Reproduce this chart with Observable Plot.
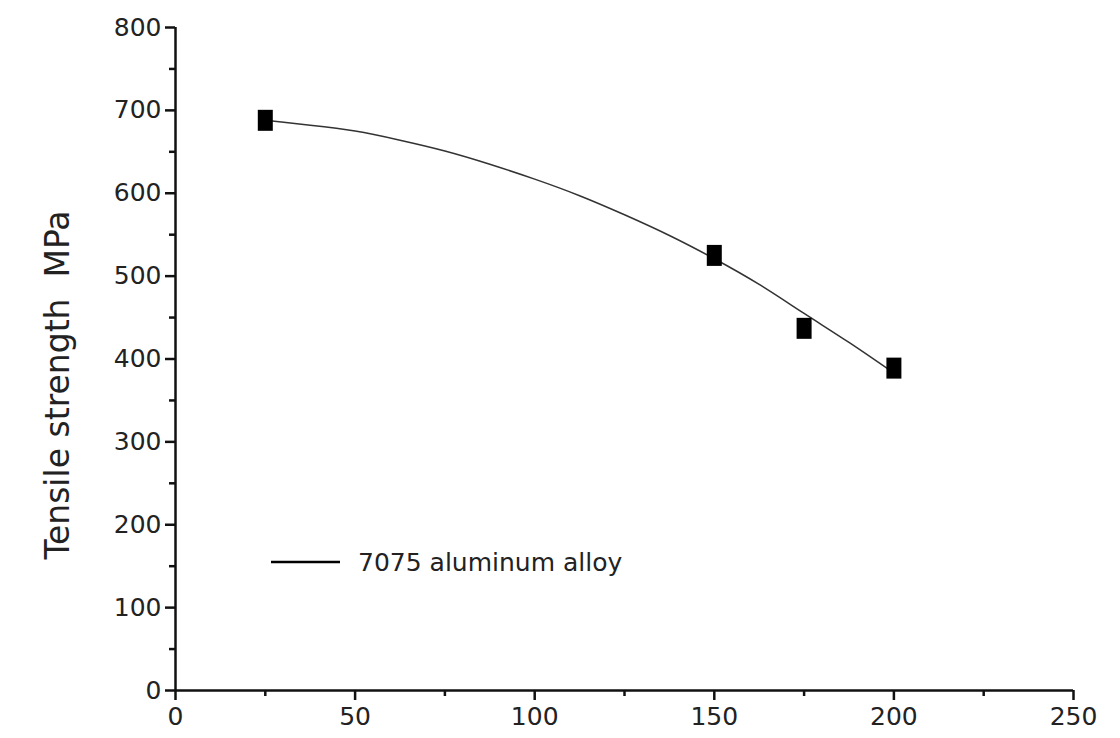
<!DOCTYPE html>
<html>
<head>
<meta charset="utf-8">
<script src="https://cdn.jsdelivr.net/npm/d3@7"></script>
<script src="https://cdn.jsdelivr.net/npm/@observablehq/plot@0.6"></script>
<style>
  html, body { margin: 0; padding: 0; background: #fff; }
  #chart svg { display: block; }
</style>
</head>
<body>
<div id="chart"></div>
<script>
// Measured points (temperature °C, tensile strength MPa)
const temperature = [25, 150, 175, 200];
const strength = [688, 525, 437, 389];

// Fitted curve
const curveX = [25, 37.5, 50, 62.5, 75, 87.5, 100, 112.5, 125, 137.5, 150, 162.5, 175, 187.5, 200];
const curveY = [688, 682, 675, 664, 651, 635, 617, 597, 574, 549, 521, 490, 455, 420, 383];

const xMajor = [0, 50, 100, 150, 200, 250];
const xMinor = [25, 75, 125, 175, 225];
const yMajor = [0, 100, 200, 300, 400, 500, 600, 700, 800];
const yMinor = [50, 150, 250, 350, 450, 550, 650, 750];

const seriesName = "7075 aluminum alloy";
const yLabel = "Tensile strength  MPa";

const points = temperature.map((t, i) => ({x: t, y: strength[i]}));
const curve = curveX.map((t, i) => ({x: t, y: curveY[i]}));

const rectSymbol = {
  draw(ctx, size) { ctx.rect(-7.5, -10.5, 15, 21); }
};

const font = "'DejaVu Sans', 'Liberation Sans', sans-serif";

const plot = Plot.plot({
  width: 1120,
  height: 738,
  marginLeft: 175,
  marginRight: 47,
  marginTop: 27,
  marginBottom: 48,
  style: {fontFamily: font, fontSize: "25px", color: "#222", background: "#fff"},
  x: {domain: [0, 250]},
  y: {domain: [0, 800]},
  marks: [
    Plot.axisX({ticks: xMajor, tickSize: 10, tickPadding: 7, strokeWidth: 2.5, stroke: "#111", label: null, fontSize: 25, fill: "#222"}),
    Plot.axisX({ticks: xMinor, tickSize: 6, text: null, strokeWidth: 2.5, stroke: "#111", label: null}),
    Plot.axisY({ticks: yMajor, tickSize: 10, tickPadding: 4, strokeWidth: 2.5, stroke: "#111", label: null, fontSize: 25, fill: "#222"}),
    Plot.axisY({ticks: yMinor, tickSize: 6, text: null, strokeWidth: 2.5, stroke: "#111", label: null}),
    Plot.ruleX([0], {stroke: "#111", strokeWidth: 2.5}),
    Plot.ruleY([0], {stroke: "#111", strokeWidth: 2.5}),
    Plot.line(curve, {x: "x", y: "y", curve: "natural", stroke: "#333", strokeWidth: 1.5}),
    Plot.dot(points, {x: "x", y: "y", symbol: rectSymbol, fill: "#000", stroke: "none", r: 5})
  ]
});

const svg = d3.select(plot);
// Legend inside the plot area
svg.append("line")
  .attr("x1", 271).attr("x2", 340).attr("y1", 562).attr("y2", 562)
  .attr("stroke", "#000").attr("stroke-width", 2.5);
svg.append("text")
  .attr("x", 358).attr("y", 562).attr("dy", "0.35em")
  .attr("text-anchor", "start")
  .attr("font-family", font).attr("font-size", 25).attr("fill", "#222")
  .text(seriesName);
// Y axis title
svg.append("text")
  .attr("transform", "translate(57,385) rotate(-90)")
  .attr("text-anchor", "middle").attr("dy", "0.35em")
  .attr("font-family", font).attr("font-size", 33).attr("fill", "#222")
  .text(yLabel);

document.getElementById("chart").appendChild(plot);
</script>
</body>
</html>
